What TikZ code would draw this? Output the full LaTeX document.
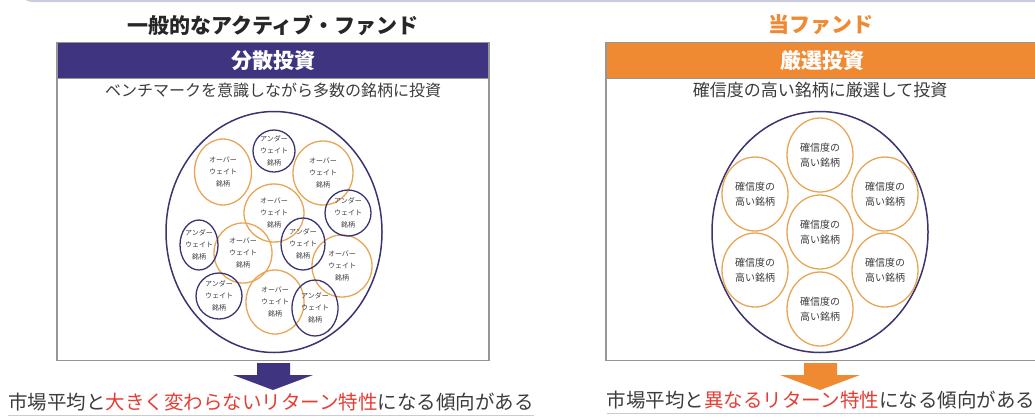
\documentclass[tikz,border=0pt]{standalone}
\usepackage{fontspec}
\setmainfont{Noto Sans CJK JP}
\usetikzlibrary{shapes.geometric}
\definecolor{fundpurple}{RGB}{62,52,128}
\definecolor{fundnavy}{RGB}{58,52,112}
\definecolor{fundorange}{RGB}{240,138,50}
\definecolor{ringorange}{RGB}{232,165,85}
\definecolor{fundred}{RGB}{228,62,52}
\definecolor{textgray}{RGB}{60,60,60}
\definecolor{framegray}{RGB}{150,150,150}
\definecolor{topgray}{RGB}{200,204,222}
\begin{document}
\begin{tikzpicture}[x=1pt, y=-1pt,
  box_style/.style={draw=framegray, line width=1.2pt, anchor=north, inner sep=0pt},
  head_style/.style={draw=framegray, line width=1.2pt, anchor=north, minimum height=36pt, text=white, font=\fontsize{21}{24}\selectfont\bfseries},
  ring_style/.style={ellipse, draw=fundnavy, line width=1.5pt, inner sep=0pt, minimum width=216pt, minimum height=241pt},
  circ_text/.style={align=center, text=textgray, inner sep=0pt},
  over_style/.style={ellipse, draw=ringorange, line width=1.3pt, inner sep=0pt,
    label={[circ_text, font=\fontsize{7}{12}\selectfont]center:オーバー\\ウェイト\\銘柄}},
  under_style/.style={ellipse, draw=fundnavy, line width=1.3pt, inner sep=0pt,
    label={[circ_text, font=\fontsize{7}{12}\selectfont]center:アンダー\\ウェイト\\銘柄}},
  pick_style/.style={ellipse, draw=ringorange, line width=1.3pt, inner sep=0pt, minimum width=66pt, minimum height=74pt,
    label={[circ_text, font=\fontsize{10}{15}\selectfont]center:確信度の\\高い銘柄}},
  note_style/.style={text=textgray, inner sep=0pt, font=\fontsize{19.5}{22}\selectfont}]
  \useasboundingbox (0,0) rectangle (1035,418);
  \draw[line width=2pt, topgray, rounded corners=10pt] (22,-20) -- (22,1) -- (1040,1);

  % left panel
  \node[text=black!85, font=\fontsize{21}{24}\selectfont\bfseries] (left_title) at (273,25) {一般的なアクティブ・ファンド};
  \node[box_style, minimum width=432pt, minimum height=318pt] (left_box) at (273,42) {};
  \node[head_style, fill=fundpurple, minimum width=432pt] (left_head) at (273,42) {分散投資};
  \node[text=textgray, font=\fontsize{16}{18}\selectfont] (left_sub) at (273,90) {ベンチマークを意識しながら多数の銘柄に投資};
  \node[ring_style] (left_ring) at (274,232) {};
  \draw
    (223,172) node[over_style, minimum width=57pt, minimum height=66pt] (o1){}
    (323,173) node[over_style, minimum width=60pt, minimum height=64pt] (o2){}
    (274,213) node[over_style, minimum width=60pt, minimum height=58pt] (o3){}
    (243,253) node[over_style, minimum width=58pt, minimum height=60pt] (o4){}
    (342,266) node[over_style, minimum width=60pt, minimum height=62pt] (o5){}
    (275,302) node[over_style, minimum width=58pt, minimum height=64pt] (o6){}
    (274,151) node[under_style, minimum width=42pt, minimum height=42pt] (u1){}
    (348,213) node[under_style, minimum width=46pt, minimum height=46pt] (u2){}
    (199,245) node[under_style, minimum width=38pt, minimum height=50pt] (u3){}
    (303,244) node[under_style, minimum width=44pt, minimum height=52pt] (u4){}
    (219,296) node[under_style, minimum width=46pt, minimum height=46pt] (u5){}
    (315,308) node[under_style, minimum width=46pt, minimum height=56pt] (u6){};
  \fill[fundpurple] (257,363) -- (290,363) -- (290,375) -- (313,375) -- (273,390) -- (233,375) -- (257,375) -- cycle;
  \node[note_style] (left_note) at (271,402) {市場平均と\textcolor{fundred}{大きく変わらないリターン特性}になる傾向がある};
  \draw[gray!40, line width=0.8pt] ([yshift=-4pt]left_note.south west) -- ([yshift=-4pt]left_note.south east);

  % right panel
  \node[text=fundorange, font=\fontsize{21}{24}\selectfont\bfseries] (right_title) at (821,25) {当ファンド};
  \node[box_style, minimum width=432pt, minimum height=318pt] (right_box) at (822,42) {};
  \node[head_style, fill=fundorange, minimum width=432pt] (right_head) at (822,42) {厳選投資};
  \node[text=textgray, font=\fontsize{17}{19}\selectfont] (right_sub) at (820,90) {確信度の高い銘柄に厳選して投資};
  \node[ring_style] (right_ring) at (820,232) {};
  \draw
    (820,232) node[pick_style] (p1){}
    (820,155) node[pick_style] (p2){}
    (820,309) node[pick_style] (p3){}
    (755,194) node[pick_style] (p4){}
    (885,194) node[pick_style] (p5){}
    (755,270) node[pick_style] (p6){}
    (885,270) node[pick_style] (p7){};
  \fill[fundorange] (804,363) -- (837,363) -- (837,375) -- (860,375) -- (820,390) -- (780,375) -- (804,375) -- cycle;
  \node[note_style] (right_note) at (821,400) {市場平均と\textcolor{fundred}{異なるリターン特性}になる傾向がある};
  \draw[gray!40, line width=0.8pt] ([yshift=-4pt]right_note.south west) -- ([yshift=-4pt]right_note.south east);
\end{tikzpicture}
\end{document}
